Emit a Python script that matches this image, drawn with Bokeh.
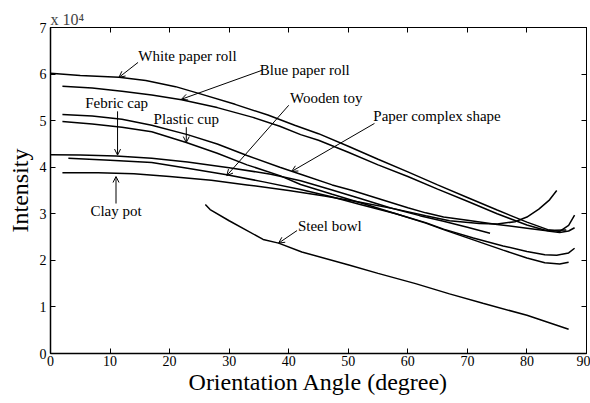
from bokeh.plotting import figure
from bokeh.models import Range1d, LinearAxis, Label, Arrow, OpenHead, FixedTicker
from bokeh.embed import file_html
from bokeh.resources import INLINE

# ---- data (intensity in units of 10^4) ----
white_x = [0, 5, 11.5, 16, 21, 25.3, 31, 36.5, 41, 45, 50, 55, 60, 65, 70, 75, 80, 83.5, 85.5, 87, 88]
white_y = [6.02, 5.97, 5.93, 5.86, 5.73, 5.57, 5.35, 5.12, 4.9, 4.72, 4.45, 4.17, 3.9, 3.62, 3.35, 3.08, 2.82, 2.66, 2.62, 2.75, 2.97]

blue_x = [2, 7, 12, 17, 22, 28, 34, 38.5, 42, 45, 50, 55, 60, 65, 70, 75, 80, 83.5, 85.5, 87, 88]
blue_y = [5.74, 5.7, 5.63, 5.55, 5.45, 5.28, 5.07, 4.88, 4.7, 4.58, 4.32, 4.05, 3.8, 3.53, 3.27, 3.0, 2.76, 2.63, 2.6, 2.63, 2.7]

paper_x = [2, 7, 12, 17, 23, 28, 33, 38.5, 42, 47.3, 50.7, 55, 60, 63, 66, 70, 75, 80, 83, 86.6]
paper_y = [5.13, 5.1, 5.03, 4.9, 4.7, 4.5, 4.25, 4.0, 3.85, 3.62, 3.5, 3.33, 3.13, 3.02, 2.93, 2.86, 2.77, 2.69, 2.64, 2.65]

plastic_x = [2, 7, 12, 17, 22.8, 28, 33, 38.5, 42, 47.3, 53, 58, 63, 66, 71, 76, 80, 83, 85.5, 87]
plastic_y = [4.98, 4.93, 4.86, 4.76, 4.53, 4.3, 4.05, 3.82, 3.63, 3.42, 3.2, 3.0, 2.8, 2.66, 2.44, 2.22, 2.05, 1.95, 1.92, 1.96]

febric_x = [0, 5, 11, 17, 23, 30, 37, 42, 47, 52, 57, 62, 66, 70, 73.8]
febric_y = [4.27, 4.26, 4.24, 4.19, 4.11, 3.99, 3.85, 3.71, 3.52, 3.33, 3.13, 2.96, 2.84, 2.71, 2.58]

wooden_x = [3, 10, 17, 23, 29.6, 36, 42, 47, 52, 58, 63, 66, 71, 76, 80, 83, 85, 87, 88]
wooden_y = [4.19, 4.15, 4.1, 3.98, 3.84, 3.68, 3.52, 3.37, 3.2, 3.0, 2.81, 2.67, 2.48, 2.31, 2.19, 2.12, 2.11, 2.16, 2.26]

clay_x = [2, 8, 14, 20, 27, 33, 40, 46, 52, 58, 63, 67, 72, 75, 78, 80, 82, 83.8, 85]
clay_y = [3.88, 3.88, 3.86, 3.8, 3.72, 3.62, 3.5, 3.38, 3.25, 3.1, 2.96, 2.85, 2.79, 2.78, 2.83, 2.93, 3.1, 3.3, 3.5]

steel_x = [26, 26.8, 30, 35.7, 38.3, 42.2, 50.1, 55, 61.3, 67, 72.6, 80, 87]
steel_y = [3.2, 3.09, 2.85, 2.45, 2.37, 2.18, 1.9, 1.72, 1.5, 1.28, 1.08, 0.82, 0.52]

series = [white_x, white_y, blue_x, blue_y, paper_x, paper_y, plastic_x, plastic_y,
          febric_x, febric_y, wooden_x, wooden_y, clay_x, clay_y, steel_x, steel_y]

# annotations: text, text x, text y, arrow start x, y, arrow tip x, y
ann_text = ["White paper roll", "Blue paper roll", "Wooden toy", "Paper complex shape",
            "Febric cap", "Plastic cup", "Clay pot", "Steel bowl"]
ann_tx = [23.0, 42.7, 46.3, 64.9, 11.1, 22.8, 11.0, 46.9]
ann_ty = [6.38, 6.08, 5.49, 5.09, 5.37, 5.03, 3.05, 2.73]
arr_x0 = [14.7, 35.5, 40.0, 54.4, 11.26, 22.8, 11.0, 41.4]
arr_y0 = [6.25, 6.08, 5.33, 4.94, 5.2, 4.86, 3.22, 2.64]
arr_x1 = [11.5, 22.0, 29.6, 40.5, 11.26, 22.8, 11.0, 38.3]
arr_y1 = [5.93, 5.46, 3.82, 3.91, 4.26, 4.53, 3.8, 2.37]

x_ticks = [0, 10, 20, 30, 40, 50, 60, 70, 80, 90]
y_ticks = [0, 1, 2, 3, 4, 5, 6, 7]

FONT = "Liberation Serif"

p = figure(width=590, height=403, output_backend="svg", toolbar_location=None,
           x_range=Range1d(0, 90), y_range=Range1d(0, 7),
           min_border_left=50, min_border_right=4, min_border_top=27, min_border_bottom=50,
           title="x 10\u2074")
p.title.text_font = FONT
p.title.text_font_size = "16px"
p.title.text_font_style = "normal"
p.title.align = "left"
p.title.standoff = 0
p.title.offset = 0
p.background_fill_color = "white"
p.border_fill_color = "white"
p.grid.visible = False
p.outline_line_color = "black"
p.outline_line_width = 1

for ax in (p.xaxis[0], p.yaxis[0]):
    ax.major_tick_in = 5
    ax.major_tick_out = 0
    ax.minor_tick_in = 0
    ax.minor_tick_out = 0
    ax.axis_line_color = "black"
    ax.axis_line_width = 1.5
    ax.major_label_text_font = FONT
    ax.major_label_text_font_size = "14px"
    ax.major_label_text_color = "black"
    ax.axis_label_text_font = FONT
    ax.axis_label_text_font_size = "24px"
    ax.axis_label_text_font_style = "normal"
    ax.axis_label_text_color = "black"

p.xaxis[0].ticker = FixedTicker(ticks=x_ticks)
p.yaxis[0].ticker = FixedTicker(ticks=y_ticks)
p.xaxis[0].axis_label = "Orientation Angle (degree)"
p.yaxis[0].axis_label = "Intensity"
p.xaxis[0].major_label_standoff = 2
p.yaxis[0].major_label_standoff = 4
p.xaxis[0].axis_label_standoff = 0
p.yaxis[0].axis_label_standoff = 4

# box axes (top / right) with inward ticks and no labels
top = LinearAxis(ticker=FixedTicker(ticks=x_ticks),
                 major_label_overrides={t: "" for t in x_ticks},
                 major_tick_in=5, major_tick_out=0, minor_tick_in=0, minor_tick_out=0,
                 axis_line_color="black", major_label_standoff=0)
right = LinearAxis(ticker=FixedTicker(ticks=y_ticks),
                   major_label_overrides={t: "" for t in y_ticks},
                   major_tick_in=5, major_tick_out=0, minor_tick_in=0, minor_tick_out=0,
                   axis_line_color="black", major_label_standoff=0)
p.add_layout(top, "above")
p.add_layout(right, "right")

for i in range(0, len(series), 2):
    p.line(series[i], series[i + 1], line_color="black", line_width=1.5)

for t, tx, ty, x0, y0, x1, y1 in zip(ann_text, ann_tx, ann_ty, arr_x0, arr_y0, arr_x1, arr_y1):
    p.add_layout(Label(x=tx, y=ty, text=t, text_font=FONT, text_font_size="15px",
                       text_align="center", text_baseline="middle", text_color="black"))
    p.add_layout(Arrow(end=OpenHead(size=6, line_width=1, line_color="black"),
                       x_start=x0, y_start=y0, x_end=x1, y_end=y1,
                       line_color="black", line_width=1))

open("out.html", "w").write(file_html(p, INLINE))
